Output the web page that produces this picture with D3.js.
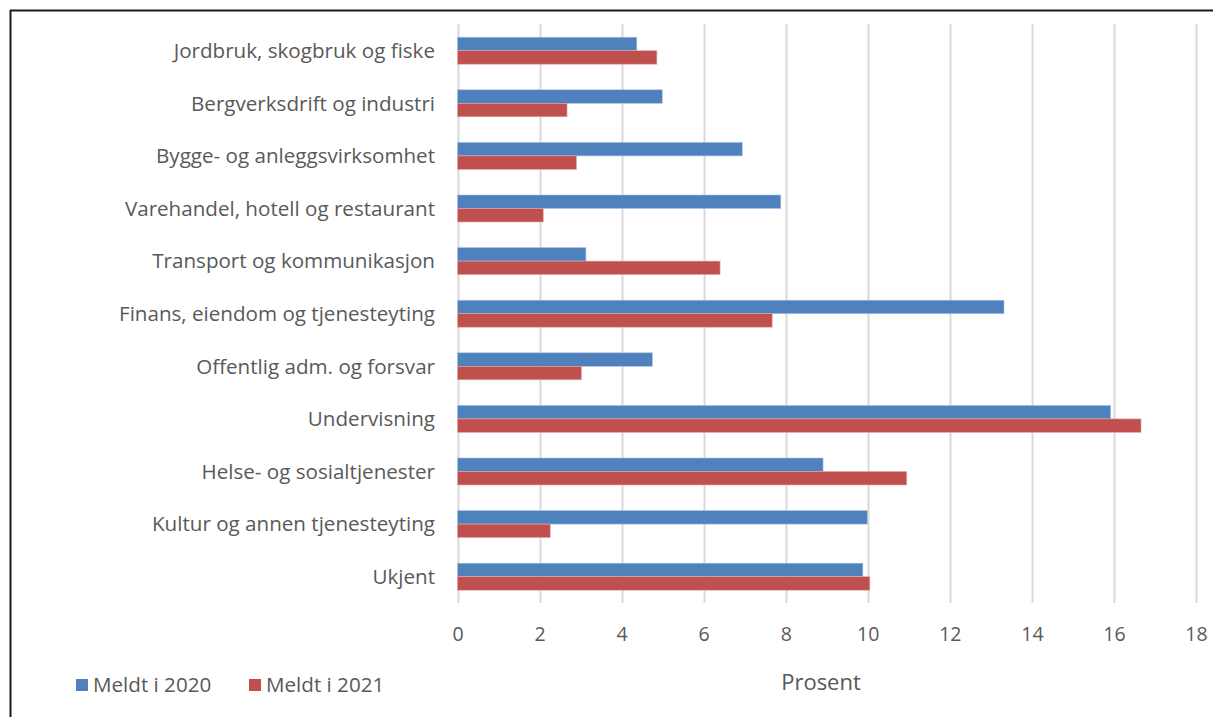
<!DOCTYPE html>
<html><head><meta charset="utf-8">
<script src="https://cdn.jsdelivr.net/npm/d3@7/dist/d3.min.js"></script>
<style>
html,body{margin:0;padding:0;background:#fff;}
svg{display:block;}
text{font-family:"Open Sans",Lato,sans-serif;fill:#595959;}
</style></head>
<body>
<svg id="chart" width="1213" height="717"></svg>
<script>
const categories = [
  "Jordbruk, skogbruk og fiske",
  "Bergverksdrift og industri",
  "Bygge- og anleggsvirksomhet",
  "Varehandel, hotell og restaurant",
  "Transport og kommunikasjon",
  "Finans, eiendom og tjenesteyting",
  "Offentlig adm. og forsvar",
  "Undervisning",
  "Helse- og sosialtjenester",
  "Kultur og annen tjenesteyting",
  "Ukjent"
];
const seriesNames = ["Meldt i 2020", "Meldt i 2021"];
const values2020 = [4.37, 4.99, 6.94, 7.88, 3.13, 13.32, 4.75, 15.92, 8.91, 9.99, 9.88];
const values2021 = [4.86, 2.67, 2.90, 2.09, 6.40, 7.67, 3.02, 16.66, 10.95, 2.26, 10.05];
const xTicks = [0, 2, 4, 6, 8, 10, 12, 14, 16, 18];
const xTitle = "Prosent";
const colors = ["#4F81BD", "#C0504D"];

const svg = d3.select("#chart");

// frame (top and left edges visible)
svg.append("line").attr("x1",10).attr("x2",1213).attr("y1",10.5).attr("y2",10.5).attr("stroke","#1a1a1a").attr("stroke-width",2);
svg.append("line").attr("x1",10.5).attr("x2",10.5).attr("y1",10).attr("y2",717).attr("stroke","#1a1a1a").attr("stroke-width",2);

const x = d3.scaleLinear().domain([0, 18]).range([457.5, 1196]);
const y = d3.scaleBand().domain(categories).range([24.4, 603]).paddingInner(0.487).paddingOuter(0.2435);
const ySub = d3.scaleBand().domain(seriesNames).range([0, y.bandwidth()]);

// gridlines
svg.append("g").selectAll("line").data(xTicks).join("line")
  .attr("x1", d => Math.round(x(d)) + 0.5).attr("x2", d => Math.round(x(d)) + 0.5)
  .attr("y1", 24).attr("y2", 603)
  .attr("stroke", "#d9d9d9").attr("stroke-width", 2);

// bars
const data = categories.map((c, i) => ({c, vals: [values2020[i], values2021[i]]}));
const groups = svg.append("g").selectAll("g").data(data).join("g")
  .attr("transform", d => `translate(0,${y(d.c)})`);
groups.selectAll("rect").data(d => d.vals.map((v, j) => ({v, s: seriesNames[j], j}))).join("rect")
  .attr("x", x(0))
  .attr("y", d => ySub(d.s))
  .attr("width", d => x(d.v) - x(0))
  .attr("height", ySub.bandwidth())
  .attr("fill", d => colors[d.j])
  .attr("stroke", d => d.j === 0 ? "#a9c1e0" : "#e0a9a7")
  .attr("stroke-width", 0.6);

// category axis labels
svg.append("g").selectAll("text").data(categories).join("text")
  .attr("x", 435)
  .attr("y", d => y(d) + y.bandwidth() / 2)
  .attr("dy", "0.35em")
  .attr("text-anchor", "end")
  .attr("font-size", 20.6)
  .text(d => d);

// x axis labels
const xAxis = d3.axisBottom(x).tickValues(xTicks).tickSize(0).tickPadding(0).tickFormat(d3.format("d"));
const gx = svg.append("g").attr("transform", "translate(0,641)").call(xAxis);
gx.select(".domain").remove();
gx.selectAll("text").attr("font-size", 19.5).attr("dy", null).attr("y", 0)
  .style("font-family", "'Open Sans'").attr("fill", "#595959");

// x title
svg.append("text").attr("x", 821).attr("y", 690).attr("text-anchor", "middle")
  .attr("font-size", 22).text(xTitle);

// legend
const legX = [76, 249];
const lg = svg.append("g").selectAll("g").data(seriesNames).join("g")
  .attr("transform", (d, i) => `translate(${legX[i]},679)`);
lg.append("rect").attr("width", 12).attr("height", 12).attr("fill", (d, i) => colors[i]);
lg.append("text").attr("x", 17).attr("y", 13).attr("font-size", 20.6).text(d => d);
</script>
</body></html>
